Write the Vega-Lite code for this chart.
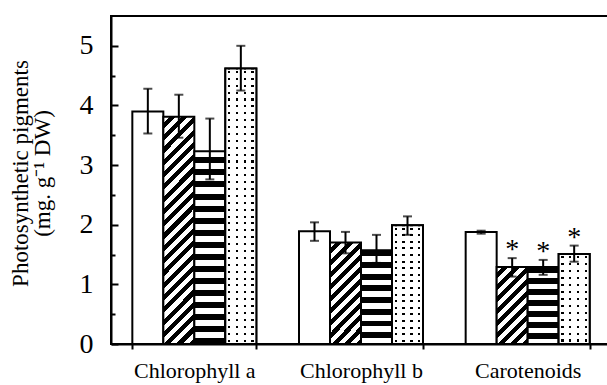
{
  "$schema": "https://vega.github.io/schema/vega-lite/v6.json",
  "width": 500,
  "height": 328,
  "autosize": {"type": "none"},
  "padding": {"left": 111, "top": 16, "right": -4, "bottom": 41},
  "background": "white",
  "config": {
    "view": {"stroke": "black", "strokeWidth": 2},
    "font": "Liberation Serif",
    "axis": {"grid": false, "domainColor": "black", "domainWidth": 2, "tickColor": "black", "tickWidth": 2, "labelColor": "black", "titleColor": "black", "titleFontWeight": "normal", "labelFont": "Liberation Serif", "titleFont": "Liberation Serif"}
  },
  "data": {
    "values": [
      {"pigment": "Chlorophyll a", "trt": "Control", "mean": 3.90, "lo": 3.53, "hi": 4.28, "sig": ""},
      {"pigment": "Chlorophyll a", "trt": "T1", "mean": 3.81, "lo": 3.46, "hi": 4.18, "sig": ""},
      {"pigment": "Chlorophyll a", "trt": "T2", "mean": 3.23, "lo": 2.76, "hi": 3.78, "sig": ""},
      {"pigment": "Chlorophyll a", "trt": "T3", "mean": 4.62, "lo": 4.25, "hi": 5.00, "sig": ""},
      {"pigment": "Chlorophyll b", "trt": "Control", "mean": 1.89, "lo": 1.73, "hi": 2.04, "sig": ""},
      {"pigment": "Chlorophyll b", "trt": "T1", "mean": 1.70, "lo": 1.52, "hi": 1.88, "sig": ""},
      {"pigment": "Chlorophyll b", "trt": "T2", "mean": 1.57, "lo": 1.36, "hi": 1.83, "sig": ""},
      {"pigment": "Chlorophyll b", "trt": "T3", "mean": 1.99, "lo": 1.83, "hi": 2.14, "sig": ""},
      {"pigment": "Carotenoids", "trt": "Control", "mean": 1.88, "lo": 1.85, "hi": 1.90, "sig": ""},
      {"pigment": "Carotenoids", "trt": "T1", "mean": 1.29, "lo": 1.13, "hi": 1.44, "sig": "*"},
      {"pigment": "Carotenoids", "trt": "T2", "mean": 1.29, "lo": 1.16, "hi": 1.41, "sig": "*"},
      {"pigment": "Carotenoids", "trt": "T3", "mean": 1.51, "lo": 1.38, "hi": 1.65, "sig": "*"}
    ]
  },
  "encoding": {
    "x": {
      "field": "pigment", "type": "nominal",
      "sort": ["Chlorophyll a", "Chlorophyll b", "Carotenoids"],
      "scale": {"paddingInner": 0.256, "paddingOuter": 0.128},
      "axis": {"title": null, "labelAngle": 0, "labelFontSize": 22, "tickBand": "extent", "tickSize": 5, "labelPadding": 11}
    },
    "xOffset": {
      "field": "trt", "type": "nominal",
      "sort": ["Control", "T1", "T2", "T3"],
      "scale": {"paddingInner": 0, "paddingOuter": 0}
    },
    "y": {
      "field": "mean", "type": "quantitative",
      "scale": {"domain": [0, 5.5], "nice": false},
      "axis": {
        "title": ["Photosynthetic pigments", "(mg. g⁻¹ DW)"],
        "titleFontSize": 23,
        "titleLineHeight": 22,
        "titleX": -79,
        "titleY": 157,
        "values": [0, 0.5, 1, 1.5, 2, 2.5, 3, 3.5, 4, 4.5, 5],
        "labelExpr": "datum.value % 1 ? '' : format(datum.value, 'd')",
        "labelFontSize": 28,
        "labelPadding": 25,
        "tickSize": {"condition": {"test": "datum.value % 1", "value": -4}, "value": -7}
      }
    }
  },
  "layer": [
    {
      "transform": [{"filter": "datum.trt === 'Control'"}],
      "mark": {"type": "bar", "fill": "white", "stroke": "black", "strokeWidth": 2}
    },
    {
      "transform": [{"filter": "datum.trt === 'T1' && datum.pigment === 'Chlorophyll a'"}],
      "mark": {"type": "bar", "stroke": "black", "strokeWidth": 2,
        "fill": {"gradient": "linear", "x1": 0, "y1": 0, "x2": 0.153, "y2": 1.116, "stops": [
          {"offset": 0, "color": "#fff"},
          {"offset": 0.0238, "color": "#fff"}, {"offset": 0.0238, "color": "#000"}, {"offset": 0.0476, "color": "#000"}, {"offset": 0.0476, "color": "#fff"},
          {"offset": 0.0714, "color": "#fff"}, {"offset": 0.0714, "color": "#000"}, {"offset": 0.0952, "color": "#000"}, {"offset": 0.0952, "color": "#fff"},
          {"offset": 0.1190, "color": "#fff"}, {"offset": 0.1190, "color": "#000"}, {"offset": 0.1429, "color": "#000"}, {"offset": 0.1429, "color": "#fff"},
          {"offset": 0.1667, "color": "#fff"}, {"offset": 0.1667, "color": "#000"}, {"offset": 0.1905, "color": "#000"}, {"offset": 0.1905, "color": "#fff"},
          {"offset": 0.2143, "color": "#fff"}, {"offset": 0.2143, "color": "#000"}, {"offset": 0.2381, "color": "#000"}, {"offset": 0.2381, "color": "#fff"},
          {"offset": 0.2619, "color": "#fff"}, {"offset": 0.2619, "color": "#000"}, {"offset": 0.2857, "color": "#000"}, {"offset": 0.2857, "color": "#fff"},
          {"offset": 0.3095, "color": "#fff"}, {"offset": 0.3095, "color": "#000"}, {"offset": 0.3333, "color": "#000"}, {"offset": 0.3333, "color": "#fff"},
          {"offset": 0.3571, "color": "#fff"}, {"offset": 0.3571, "color": "#000"}, {"offset": 0.3810, "color": "#000"}, {"offset": 0.3810, "color": "#fff"},
          {"offset": 0.4048, "color": "#fff"}, {"offset": 0.4048, "color": "#000"}, {"offset": 0.4286, "color": "#000"}, {"offset": 0.4286, "color": "#fff"},
          {"offset": 0.4524, "color": "#fff"}, {"offset": 0.4524, "color": "#000"}, {"offset": 0.4762, "color": "#000"}, {"offset": 0.4762, "color": "#fff"},
          {"offset": 0.5000, "color": "#fff"}, {"offset": 0.5000, "color": "#000"}, {"offset": 0.5238, "color": "#000"}, {"offset": 0.5238, "color": "#fff"},
          {"offset": 0.5476, "color": "#fff"}, {"offset": 0.5476, "color": "#000"}, {"offset": 0.5714, "color": "#000"}, {"offset": 0.5714, "color": "#fff"},
          {"offset": 0.5952, "color": "#fff"}, {"offset": 0.5952, "color": "#000"}, {"offset": 0.6190, "color": "#000"}, {"offset": 0.6190, "color": "#fff"},
          {"offset": 0.6429, "color": "#fff"}, {"offset": 0.6429, "color": "#000"}, {"offset": 0.6667, "color": "#000"}, {"offset": 0.6667, "color": "#fff"},
          {"offset": 0.6905, "color": "#fff"}, {"offset": 0.6905, "color": "#000"}, {"offset": 0.7143, "color": "#000"}, {"offset": 0.7143, "color": "#fff"},
          {"offset": 0.7381, "color": "#fff"}, {"offset": 0.7381, "color": "#000"}, {"offset": 0.7619, "color": "#000"}, {"offset": 0.7619, "color": "#fff"},
          {"offset": 0.7857, "color": "#fff"}, {"offset": 0.7857, "color": "#000"}, {"offset": 0.8095, "color": "#000"}, {"offset": 0.8095, "color": "#fff"},
          {"offset": 0.8333, "color": "#fff"}, {"offset": 0.8333, "color": "#000"}, {"offset": 0.8571, "color": "#000"}, {"offset": 0.8571, "color": "#fff"},
          {"offset": 0.8810, "color": "#fff"}, {"offset": 0.8810, "color": "#000"}, {"offset": 0.9048, "color": "#000"}, {"offset": 0.9048, "color": "#fff"},
          {"offset": 0.9286, "color": "#fff"}, {"offset": 0.9286, "color": "#000"}, {"offset": 0.9524, "color": "#000"}, {"offset": 0.9524, "color": "#fff"},
          {"offset": 0.9762, "color": "#fff"}, {"offset": 0.9762, "color": "#000"}, {"offset": 1, "color": "#000"}
        ]}}
    },
    {
      "transform": [{"filter": "datum.trt === 'T1' && datum.pigment === 'Chlorophyll b'"}],
      "mark": {"type": "bar", "stroke": "black", "strokeWidth": 2,
        "fill": {"gradient": "linear", "x1": 0, "y1": 0, "x2": 0.367, "y2": 1.195, "stops": [
          {"offset": 0, "color": "#fff"},
          {"offset": 0.0455, "color": "#fff"}, {"offset": 0.0455, "color": "#000"}, {"offset": 0.0909, "color": "#000"}, {"offset": 0.0909, "color": "#fff"},
          {"offset": 0.1364, "color": "#fff"}, {"offset": 0.1364, "color": "#000"}, {"offset": 0.1818, "color": "#000"}, {"offset": 0.1818, "color": "#fff"},
          {"offset": 0.2273, "color": "#fff"}, {"offset": 0.2273, "color": "#000"}, {"offset": 0.2727, "color": "#000"}, {"offset": 0.2727, "color": "#fff"},
          {"offset": 0.3182, "color": "#fff"}, {"offset": 0.3182, "color": "#000"}, {"offset": 0.3636, "color": "#000"}, {"offset": 0.3636, "color": "#fff"},
          {"offset": 0.4091, "color": "#fff"}, {"offset": 0.4091, "color": "#000"}, {"offset": 0.4545, "color": "#000"}, {"offset": 0.4545, "color": "#fff"},
          {"offset": 0.5000, "color": "#fff"}, {"offset": 0.5000, "color": "#000"}, {"offset": 0.5455, "color": "#000"}, {"offset": 0.5455, "color": "#fff"},
          {"offset": 0.5909, "color": "#fff"}, {"offset": 0.5909, "color": "#000"}, {"offset": 0.6364, "color": "#000"}, {"offset": 0.6364, "color": "#fff"},
          {"offset": 0.6818, "color": "#fff"}, {"offset": 0.6818, "color": "#000"}, {"offset": 0.7273, "color": "#000"}, {"offset": 0.7273, "color": "#fff"},
          {"offset": 0.7727, "color": "#fff"}, {"offset": 0.7727, "color": "#000"}, {"offset": 0.8182, "color": "#000"}, {"offset": 0.8182, "color": "#fff"},
          {"offset": 0.8636, "color": "#fff"}, {"offset": 0.8636, "color": "#000"}, {"offset": 0.9091, "color": "#000"}, {"offset": 0.9091, "color": "#fff"},
          {"offset": 0.9545, "color": "#fff"}, {"offset": 0.9545, "color": "#000"}, {"offset": 1, "color": "#000"}
        ]}}
    },
    {
      "transform": [{"filter": "datum.trt === 'T1' && datum.pigment === 'Carotenoids'"}],
      "mark": {"type": "bar", "stroke": "black", "strokeWidth": 2,
        "fill": {"gradient": "linear", "x1": 0, "y1": 0, "x2": 0.487, "y2": 1.207, "stops": [
          {"offset": 0, "color": "#fff"},
          {"offset": 0.0556, "color": "#fff"}, {"offset": 0.0556, "color": "#000"}, {"offset": 0.1111, "color": "#000"}, {"offset": 0.1111, "color": "#fff"},
          {"offset": 0.1667, "color": "#fff"}, {"offset": 0.1667, "color": "#000"}, {"offset": 0.2222, "color": "#000"}, {"offset": 0.2222, "color": "#fff"},
          {"offset": 0.2778, "color": "#fff"}, {"offset": 0.2778, "color": "#000"}, {"offset": 0.3333, "color": "#000"}, {"offset": 0.3333, "color": "#fff"},
          {"offset": 0.3889, "color": "#fff"}, {"offset": 0.3889, "color": "#000"}, {"offset": 0.4444, "color": "#000"}, {"offset": 0.4444, "color": "#fff"},
          {"offset": 0.5000, "color": "#fff"}, {"offset": 0.5000, "color": "#000"}, {"offset": 0.5556, "color": "#000"}, {"offset": 0.5556, "color": "#fff"},
          {"offset": 0.6111, "color": "#fff"}, {"offset": 0.6111, "color": "#000"}, {"offset": 0.6667, "color": "#000"}, {"offset": 0.6667, "color": "#fff"},
          {"offset": 0.7222, "color": "#fff"}, {"offset": 0.7222, "color": "#000"}, {"offset": 0.7778, "color": "#000"}, {"offset": 0.7778, "color": "#fff"},
          {"offset": 0.8333, "color": "#fff"}, {"offset": 0.8333, "color": "#000"}, {"offset": 0.8889, "color": "#000"}, {"offset": 0.8889, "color": "#fff"},
          {"offset": 0.9444, "color": "#fff"}, {"offset": 0.9444, "color": "#000"}, {"offset": 1, "color": "#000"}
        ]}}
    },
    {
      "transform": [{"filter": "datum.trt === 'T2' && datum.pigment === 'Chlorophyll a'"}],
      "mark": {"type": "bar", "stroke": "black", "strokeWidth": 2,
        "fill": {"gradient": "linear", "x1": 0, "y1": 0, "x2": 0, "y2": 1, "stops": [
          {"offset": 0, "color": "#fff"},
          {"offset": 0.03125, "color": "#fff"}, {"offset": 0.03125, "color": "#000"}, {"offset": 0.0625, "color": "#000"}, {"offset": 0.0625, "color": "#fff"},
          {"offset": 0.09375, "color": "#fff"}, {"offset": 0.09375, "color": "#000"}, {"offset": 0.125, "color": "#000"}, {"offset": 0.125, "color": "#fff"},
          {"offset": 0.15625, "color": "#fff"}, {"offset": 0.15625, "color": "#000"}, {"offset": 0.1875, "color": "#000"}, {"offset": 0.1875, "color": "#fff"},
          {"offset": 0.21875, "color": "#fff"}, {"offset": 0.21875, "color": "#000"}, {"offset": 0.25, "color": "#000"}, {"offset": 0.25, "color": "#fff"},
          {"offset": 0.28125, "color": "#fff"}, {"offset": 0.28125, "color": "#000"}, {"offset": 0.3125, "color": "#000"}, {"offset": 0.3125, "color": "#fff"},
          {"offset": 0.34375, "color": "#fff"}, {"offset": 0.34375, "color": "#000"}, {"offset": 0.375, "color": "#000"}, {"offset": 0.375, "color": "#fff"},
          {"offset": 0.40625, "color": "#fff"}, {"offset": 0.40625, "color": "#000"}, {"offset": 0.4375, "color": "#000"}, {"offset": 0.4375, "color": "#fff"},
          {"offset": 0.46875, "color": "#fff"}, {"offset": 0.46875, "color": "#000"}, {"offset": 0.5, "color": "#000"}, {"offset": 0.5, "color": "#fff"},
          {"offset": 0.53125, "color": "#fff"}, {"offset": 0.53125, "color": "#000"}, {"offset": 0.5625, "color": "#000"}, {"offset": 0.5625, "color": "#fff"},
          {"offset": 0.59375, "color": "#fff"}, {"offset": 0.59375, "color": "#000"}, {"offset": 0.625, "color": "#000"}, {"offset": 0.625, "color": "#fff"},
          {"offset": 0.65625, "color": "#fff"}, {"offset": 0.65625, "color": "#000"}, {"offset": 0.6875, "color": "#000"}, {"offset": 0.6875, "color": "#fff"},
          {"offset": 0.71875, "color": "#fff"}, {"offset": 0.71875, "color": "#000"}, {"offset": 0.75, "color": "#000"}, {"offset": 0.75, "color": "#fff"},
          {"offset": 0.78125, "color": "#fff"}, {"offset": 0.78125, "color": "#000"}, {"offset": 0.8125, "color": "#000"}, {"offset": 0.8125, "color": "#fff"},
          {"offset": 0.84375, "color": "#fff"}, {"offset": 0.84375, "color": "#000"}, {"offset": 0.875, "color": "#000"}, {"offset": 0.875, "color": "#fff"},
          {"offset": 0.90625, "color": "#fff"}, {"offset": 0.90625, "color": "#000"}, {"offset": 0.9375, "color": "#000"}, {"offset": 0.9375, "color": "#fff"},
          {"offset": 0.96875, "color": "#fff"}, {"offset": 0.96875, "color": "#000"}, {"offset": 1, "color": "#000"}
        ]}}
    },
    {
      "transform": [{"filter": "datum.trt === 'T2' && datum.pigment === 'Chlorophyll b'"}],
      "mark": {"type": "bar", "stroke": "black", "strokeWidth": 2,
        "fill": {"gradient": "linear", "x1": 0, "y1": 0, "x2": 0, "y2": 1, "stops": [
          {"offset": 0, "color": "#000"}, {"offset": 0.0625, "color": "#000"}, {"offset": 0.0625, "color": "#fff"},
          {"offset": 0.125, "color": "#fff"}, {"offset": 0.125, "color": "#000"}, {"offset": 0.1875, "color": "#000"}, {"offset": 0.1875, "color": "#fff"},
          {"offset": 0.25, "color": "#fff"}, {"offset": 0.25, "color": "#000"}, {"offset": 0.3125, "color": "#000"}, {"offset": 0.3125, "color": "#fff"},
          {"offset": 0.375, "color": "#fff"}, {"offset": 0.375, "color": "#000"}, {"offset": 0.4375, "color": "#000"}, {"offset": 0.4375, "color": "#fff"},
          {"offset": 0.5, "color": "#fff"}, {"offset": 0.5, "color": "#000"}, {"offset": 0.5625, "color": "#000"}, {"offset": 0.5625, "color": "#fff"},
          {"offset": 0.625, "color": "#fff"}, {"offset": 0.625, "color": "#000"}, {"offset": 0.6875, "color": "#000"}, {"offset": 0.6875, "color": "#fff"},
          {"offset": 0.75, "color": "#fff"}, {"offset": 0.75, "color": "#000"}, {"offset": 0.8125, "color": "#000"}, {"offset": 0.8125, "color": "#fff"},
          {"offset": 0.875, "color": "#fff"}, {"offset": 0.875, "color": "#000"}, {"offset": 0.9375, "color": "#000"}, {"offset": 0.9375, "color": "#fff"},
          {"offset": 1, "color": "#fff"}
        ]}}
    },
    {
      "transform": [{"filter": "datum.trt === 'T2' && datum.pigment === 'Carotenoids'"}],
      "mark": {"type": "bar", "stroke": "black", "strokeWidth": 2,
        "fill": {"gradient": "linear", "x1": 0, "y1": 0, "x2": 0, "y2": 1, "stops": [
          {"offset": 0, "color": "#000"}, {"offset": 0.0714, "color": "#000"}, {"offset": 0.0714, "color": "#fff"},
          {"offset": 0.1429, "color": "#fff"}, {"offset": 0.1429, "color": "#000"}, {"offset": 0.2143, "color": "#000"}, {"offset": 0.2143, "color": "#fff"},
          {"offset": 0.2857, "color": "#fff"}, {"offset": 0.2857, "color": "#000"}, {"offset": 0.3571, "color": "#000"}, {"offset": 0.3571, "color": "#fff"},
          {"offset": 0.4286, "color": "#fff"}, {"offset": 0.4286, "color": "#000"}, {"offset": 0.5, "color": "#000"}, {"offset": 0.5, "color": "#fff"},
          {"offset": 0.5714, "color": "#fff"}, {"offset": 0.5714, "color": "#000"}, {"offset": 0.6429, "color": "#000"}, {"offset": 0.6429, "color": "#fff"},
          {"offset": 0.7143, "color": "#fff"}, {"offset": 0.7143, "color": "#000"}, {"offset": 0.7857, "color": "#000"}, {"offset": 0.7857, "color": "#fff"},
          {"offset": 0.8571, "color": "#fff"}, {"offset": 0.8571, "color": "#000"}, {"offset": 0.9286, "color": "#000"}, {"offset": 0.9286, "color": "#fff"},
          {"offset": 1, "color": "#fff"}
        ]}}
    },
    {
      "transform": [{"filter": "datum.trt === 'T3' && datum.pigment === 'Chlorophyll a'"}],
      "mark": {"type": "bar", "stroke": "black", "strokeWidth": 2,
        "fill": {"gradient": "linear", "x1": 0, "y1": 0, "x2": 0, "y2": 1, "stops": [
          {"offset": 0.00875, "color": "#fff"}, {"offset": 0.00875, "color": "#000"}, {"offset": 0.01625, "color": "#000"}, {"offset": 0.01625, "color": "#fff"},
          {"offset": 0.03375, "color": "#fff"}, {"offset": 0.03375, "color": "#000"}, {"offset": 0.04125, "color": "#000"}, {"offset": 0.04125, "color": "#fff"},
          {"offset": 0.05875, "color": "#fff"}, {"offset": 0.05875, "color": "#000"}, {"offset": 0.06625, "color": "#000"}, {"offset": 0.06625, "color": "#fff"},
          {"offset": 0.08375, "color": "#fff"}, {"offset": 0.08375, "color": "#000"}, {"offset": 0.09125, "color": "#000"}, {"offset": 0.09125, "color": "#fff"},
          {"offset": 0.10875, "color": "#fff"}, {"offset": 0.10875, "color": "#000"}, {"offset": 0.11625, "color": "#000"}, {"offset": 0.11625, "color": "#fff"},
          {"offset": 0.13375, "color": "#fff"}, {"offset": 0.13375, "color": "#000"}, {"offset": 0.14125, "color": "#000"}, {"offset": 0.14125, "color": "#fff"},
          {"offset": 0.15875, "color": "#fff"}, {"offset": 0.15875, "color": "#000"}, {"offset": 0.16625, "color": "#000"}, {"offset": 0.16625, "color": "#fff"},
          {"offset": 0.18375, "color": "#fff"}, {"offset": 0.18375, "color": "#000"}, {"offset": 0.19125, "color": "#000"}, {"offset": 0.19125, "color": "#fff"},
          {"offset": 0.20875, "color": "#fff"}, {"offset": 0.20875, "color": "#000"}, {"offset": 0.21625, "color": "#000"}, {"offset": 0.21625, "color": "#fff"},
          {"offset": 0.23375, "color": "#fff"}, {"offset": 0.23375, "color": "#000"}, {"offset": 0.24125, "color": "#000"}, {"offset": 0.24125, "color": "#fff"},
          {"offset": 0.25875, "color": "#fff"}, {"offset": 0.25875, "color": "#000"}, {"offset": 0.26625, "color": "#000"}, {"offset": 0.26625, "color": "#fff"},
          {"offset": 0.28375, "color": "#fff"}, {"offset": 0.28375, "color": "#000"}, {"offset": 0.29125, "color": "#000"}, {"offset": 0.29125, "color": "#fff"},
          {"offset": 0.30875, "color": "#fff"}, {"offset": 0.30875, "color": "#000"}, {"offset": 0.31625, "color": "#000"}, {"offset": 0.31625, "color": "#fff"},
          {"offset": 0.33375, "color": "#fff"}, {"offset": 0.33375, "color": "#000"}, {"offset": 0.34125, "color": "#000"}, {"offset": 0.34125, "color": "#fff"},
          {"offset": 0.35875, "color": "#fff"}, {"offset": 0.35875, "color": "#000"}, {"offset": 0.36625, "color": "#000"}, {"offset": 0.36625, "color": "#fff"},
          {"offset": 0.38375, "color": "#fff"}, {"offset": 0.38375, "color": "#000"}, {"offset": 0.39125, "color": "#000"}, {"offset": 0.39125, "color": "#fff"},
          {"offset": 0.40875, "color": "#fff"}, {"offset": 0.40875, "color": "#000"}, {"offset": 0.41625, "color": "#000"}, {"offset": 0.41625, "color": "#fff"},
          {"offset": 0.43375, "color": "#fff"}, {"offset": 0.43375, "color": "#000"}, {"offset": 0.44125, "color": "#000"}, {"offset": 0.44125, "color": "#fff"},
          {"offset": 0.45875, "color": "#fff"}, {"offset": 0.45875, "color": "#000"}, {"offset": 0.46625, "color": "#000"}, {"offset": 0.46625, "color": "#fff"},
          {"offset": 0.48375, "color": "#fff"}, {"offset": 0.48375, "color": "#000"}, {"offset": 0.49125, "color": "#000"}, {"offset": 0.49125, "color": "#fff"},
          {"offset": 0.50875, "color": "#fff"}, {"offset": 0.50875, "color": "#000"}, {"offset": 0.51625, "color": "#000"}, {"offset": 0.51625, "color": "#fff"},
          {"offset": 0.53375, "color": "#fff"}, {"offset": 0.53375, "color": "#000"}, {"offset": 0.54125, "color": "#000"}, {"offset": 0.54125, "color": "#fff"},
          {"offset": 0.55875, "color": "#fff"}, {"offset": 0.55875, "color": "#000"}, {"offset": 0.56625, "color": "#000"}, {"offset": 0.56625, "color": "#fff"},
          {"offset": 0.58375, "color": "#fff"}, {"offset": 0.58375, "color": "#000"}, {"offset": 0.59125, "color": "#000"}, {"offset": 0.59125, "color": "#fff"},
          {"offset": 0.60875, "color": "#fff"}, {"offset": 0.60875, "color": "#000"}, {"offset": 0.61625, "color": "#000"}, {"offset": 0.61625, "color": "#fff"},
          {"offset": 0.63375, "color": "#fff"}, {"offset": 0.63375, "color": "#000"}, {"offset": 0.64125, "color": "#000"}, {"offset": 0.64125, "color": "#fff"},
          {"offset": 0.65875, "color": "#fff"}, {"offset": 0.65875, "color": "#000"}, {"offset": 0.66625, "color": "#000"}, {"offset": 0.66625, "color": "#fff"},
          {"offset": 0.68375, "color": "#fff"}, {"offset": 0.68375, "color": "#000"}, {"offset": 0.69125, "color": "#000"}, {"offset": 0.69125, "color": "#fff"},
          {"offset": 0.70875, "color": "#fff"}, {"offset": 0.70875, "color": "#000"}, {"offset": 0.71625, "color": "#000"}, {"offset": 0.71625, "color": "#fff"},
          {"offset": 0.73375, "color": "#fff"}, {"offset": 0.73375, "color": "#000"}, {"offset": 0.74125, "color": "#000"}, {"offset": 0.74125, "color": "#fff"},
          {"offset": 0.75875, "color": "#fff"}, {"offset": 0.75875, "color": "#000"}, {"offset": 0.76625, "color": "#000"}, {"offset": 0.76625, "color": "#fff"},
          {"offset": 0.78375, "color": "#fff"}, {"offset": 0.78375, "color": "#000"}, {"offset": 0.79125, "color": "#000"}, {"offset": 0.79125, "color": "#fff"},
          {"offset": 0.80875, "color": "#fff"}, {"offset": 0.80875, "color": "#000"}, {"offset": 0.81625, "color": "#000"}, {"offset": 0.81625, "color": "#fff"},
          {"offset": 0.83375, "color": "#fff"}, {"offset": 0.83375, "color": "#000"}, {"offset": 0.84125, "color": "#000"}, {"offset": 0.84125, "color": "#fff"},
          {"offset": 0.85875, "color": "#fff"}, {"offset": 0.85875, "color": "#000"}, {"offset": 0.86625, "color": "#000"}, {"offset": 0.86625, "color": "#fff"},
          {"offset": 0.88375, "color": "#fff"}, {"offset": 0.88375, "color": "#000"}, {"offset": 0.89125, "color": "#000"}, {"offset": 0.89125, "color": "#fff"},
          {"offset": 0.90875, "color": "#fff"}, {"offset": 0.90875, "color": "#000"}, {"offset": 0.91625, "color": "#000"}, {"offset": 0.91625, "color": "#fff"},
          {"offset": 0.93375, "color": "#fff"}, {"offset": 0.93375, "color": "#000"}, {"offset": 0.94125, "color": "#000"}, {"offset": 0.94125, "color": "#fff"},
          {"offset": 0.95875, "color": "#fff"}, {"offset": 0.95875, "color": "#000"}, {"offset": 0.96625, "color": "#000"}, {"offset": 0.96625, "color": "#fff"},
          {"offset": 0.98375, "color": "#fff"}, {"offset": 0.98375, "color": "#000"}, {"offset": 0.99125, "color": "#000"}, {"offset": 0.99125, "color": "#fff"}
        ]}}
    },
    {
      "transform": [{"filter": "datum.trt === 'T3' && datum.pigment === 'Chlorophyll b'"}],
      "mark": {"type": "bar", "stroke": "black", "strokeWidth": 2,
        "fill": {"gradient": "linear", "x1": 0, "y1": 0, "x2": 0, "y2": 1, "stops": [
          {"offset": 0.0194, "color": "#fff"}, {"offset": 0.0194, "color": "#000"}, {"offset": 0.0361, "color": "#000"}, {"offset": 0.0361, "color": "#fff"},
          {"offset": 0.0750, "color": "#fff"}, {"offset": 0.0750, "color": "#000"}, {"offset": 0.0917, "color": "#000"}, {"offset": 0.0917, "color": "#fff"},
          {"offset": 0.1306, "color": "#fff"}, {"offset": 0.1306, "color": "#000"}, {"offset": 0.1472, "color": "#000"}, {"offset": 0.1472, "color": "#fff"},
          {"offset": 0.1861, "color": "#fff"}, {"offset": 0.1861, "color": "#000"}, {"offset": 0.2028, "color": "#000"}, {"offset": 0.2028, "color": "#fff"},
          {"offset": 0.2417, "color": "#fff"}, {"offset": 0.2417, "color": "#000"}, {"offset": 0.2583, "color": "#000"}, {"offset": 0.2583, "color": "#fff"},
          {"offset": 0.2972, "color": "#fff"}, {"offset": 0.2972, "color": "#000"}, {"offset": 0.3139, "color": "#000"}, {"offset": 0.3139, "color": "#fff"},
          {"offset": 0.3528, "color": "#fff"}, {"offset": 0.3528, "color": "#000"}, {"offset": 0.3694, "color": "#000"}, {"offset": 0.3694, "color": "#fff"},
          {"offset": 0.4083, "color": "#fff"}, {"offset": 0.4083, "color": "#000"}, {"offset": 0.4250, "color": "#000"}, {"offset": 0.4250, "color": "#fff"},
          {"offset": 0.4639, "color": "#fff"}, {"offset": 0.4639, "color": "#000"}, {"offset": 0.4806, "color": "#000"}, {"offset": 0.4806, "color": "#fff"},
          {"offset": 0.5194, "color": "#fff"}, {"offset": 0.5194, "color": "#000"}, {"offset": 0.5361, "color": "#000"}, {"offset": 0.5361, "color": "#fff"},
          {"offset": 0.5750, "color": "#fff"}, {"offset": 0.5750, "color": "#000"}, {"offset": 0.5917, "color": "#000"}, {"offset": 0.5917, "color": "#fff"},
          {"offset": 0.6306, "color": "#fff"}, {"offset": 0.6306, "color": "#000"}, {"offset": 0.6472, "color": "#000"}, {"offset": 0.6472, "color": "#fff"},
          {"offset": 0.6861, "color": "#fff"}, {"offset": 0.6861, "color": "#000"}, {"offset": 0.7028, "color": "#000"}, {"offset": 0.7028, "color": "#fff"},
          {"offset": 0.7417, "color": "#fff"}, {"offset": 0.7417, "color": "#000"}, {"offset": 0.7583, "color": "#000"}, {"offset": 0.7583, "color": "#fff"},
          {"offset": 0.7972, "color": "#fff"}, {"offset": 0.7972, "color": "#000"}, {"offset": 0.8139, "color": "#000"}, {"offset": 0.8139, "color": "#fff"},
          {"offset": 0.8528, "color": "#fff"}, {"offset": 0.8528, "color": "#000"}, {"offset": 0.8694, "color": "#000"}, {"offset": 0.8694, "color": "#fff"},
          {"offset": 0.9083, "color": "#fff"}, {"offset": 0.9083, "color": "#000"}, {"offset": 0.9250, "color": "#000"}, {"offset": 0.9250, "color": "#fff"},
          {"offset": 0.9639, "color": "#fff"}, {"offset": 0.9639, "color": "#000"}, {"offset": 0.9806, "color": "#000"}, {"offset": 0.9806, "color": "#fff"}
        ]}}
    },
    {
      "transform": [{"filter": "datum.trt === 'T3' && datum.pigment === 'Carotenoids'"}],
      "mark": {"type": "bar", "stroke": "black", "strokeWidth": 2,
        "fill": {"gradient": "linear", "x1": 0, "y1": 0, "x2": 0, "y2": 1, "stops": [
          {"offset": 0.0269, "color": "#fff"}, {"offset": 0.0269, "color": "#000"}, {"offset": 0.0500, "color": "#000"}, {"offset": 0.0500, "color": "#fff"},
          {"offset": 0.1038, "color": "#fff"}, {"offset": 0.1038, "color": "#000"}, {"offset": 0.1269, "color": "#000"}, {"offset": 0.1269, "color": "#fff"},
          {"offset": 0.1808, "color": "#fff"}, {"offset": 0.1808, "color": "#000"}, {"offset": 0.2038, "color": "#000"}, {"offset": 0.2038, "color": "#fff"},
          {"offset": 0.2577, "color": "#fff"}, {"offset": 0.2577, "color": "#000"}, {"offset": 0.2808, "color": "#000"}, {"offset": 0.2808, "color": "#fff"},
          {"offset": 0.3346, "color": "#fff"}, {"offset": 0.3346, "color": "#000"}, {"offset": 0.3577, "color": "#000"}, {"offset": 0.3577, "color": "#fff"},
          {"offset": 0.4115, "color": "#fff"}, {"offset": 0.4115, "color": "#000"}, {"offset": 0.4346, "color": "#000"}, {"offset": 0.4346, "color": "#fff"},
          {"offset": 0.4885, "color": "#fff"}, {"offset": 0.4885, "color": "#000"}, {"offset": 0.5115, "color": "#000"}, {"offset": 0.5115, "color": "#fff"},
          {"offset": 0.5654, "color": "#fff"}, {"offset": 0.5654, "color": "#000"}, {"offset": 0.5885, "color": "#000"}, {"offset": 0.5885, "color": "#fff"},
          {"offset": 0.6423, "color": "#fff"}, {"offset": 0.6423, "color": "#000"}, {"offset": 0.6654, "color": "#000"}, {"offset": 0.6654, "color": "#fff"},
          {"offset": 0.7192, "color": "#fff"}, {"offset": 0.7192, "color": "#000"}, {"offset": 0.7423, "color": "#000"}, {"offset": 0.7423, "color": "#fff"},
          {"offset": 0.7962, "color": "#fff"}, {"offset": 0.7962, "color": "#000"}, {"offset": 0.8192, "color": "#000"}, {"offset": 0.8192, "color": "#fff"},
          {"offset": 0.8731, "color": "#fff"}, {"offset": 0.8731, "color": "#000"}, {"offset": 0.8962, "color": "#000"}, {"offset": 0.8962, "color": "#fff"},
          {"offset": 0.9500, "color": "#fff"}, {"offset": 0.9500, "color": "#000"}, {"offset": 0.9731, "color": "#000"}, {"offset": 0.9731, "color": "#fff"}
        ]}}
    },
    {
      "transform": [{"filter": "datum.trt === 'T3'"}],
      "mark": {"type": "bar", "stroke": "black", "strokeWidth": 2,
        "fill": {"gradient": "linear", "x1": 0, "y1": 0, "x2": 1, "y2": 0, "stops": [
          {"offset": 0.0875, "color": "#fff"}, {"offset": 0.0875, "color": "rgba(255,255,255,0)"}, {"offset": 0.1625, "color": "rgba(255,255,255,0)"}, {"offset": 0.1625, "color": "#fff"},
          {"offset": 0.3375, "color": "#fff"}, {"offset": 0.3375, "color": "rgba(255,255,255,0)"}, {"offset": 0.4125, "color": "rgba(255,255,255,0)"}, {"offset": 0.4125, "color": "#fff"},
          {"offset": 0.5875, "color": "#fff"}, {"offset": 0.5875, "color": "rgba(255,255,255,0)"}, {"offset": 0.6625, "color": "rgba(255,255,255,0)"}, {"offset": 0.6625, "color": "#fff"},
          {"offset": 0.8375, "color": "#fff"}, {"offset": 0.8375, "color": "rgba(255,255,255,0)"}, {"offset": 0.9125, "color": "rgba(255,255,255,0)"}, {"offset": 0.9125, "color": "#fff"}
        ]}}
    },
    {
      "mark": {"type": "rule", "color": "black", "strokeWidth": 2},
      "encoding": {
        "y": {"field": "lo", "type": "quantitative"},
        "y2": {"field": "hi"}
      }
    },
    {
      "mark": {"type": "tick", "color": "black", "thickness": 2, "size": 9},
      "encoding": {"y": {"field": "lo", "type": "quantitative"}}
    },
    {
      "mark": {"type": "tick", "color": "black", "thickness": 2, "size": 9},
      "encoding": {"y": {"field": "hi", "type": "quantitative"}}
    },
    {
      "mark": {"type": "text", "fontSize": 28, "font": "Liberation Serif", "baseline": "alphabetic", "dy": 0, "color": "black"},
      "encoding": {
        "y": {"field": "hi", "type": "quantitative"},
        "text": {"field": "sig"}
      }
    }
  ]
}
